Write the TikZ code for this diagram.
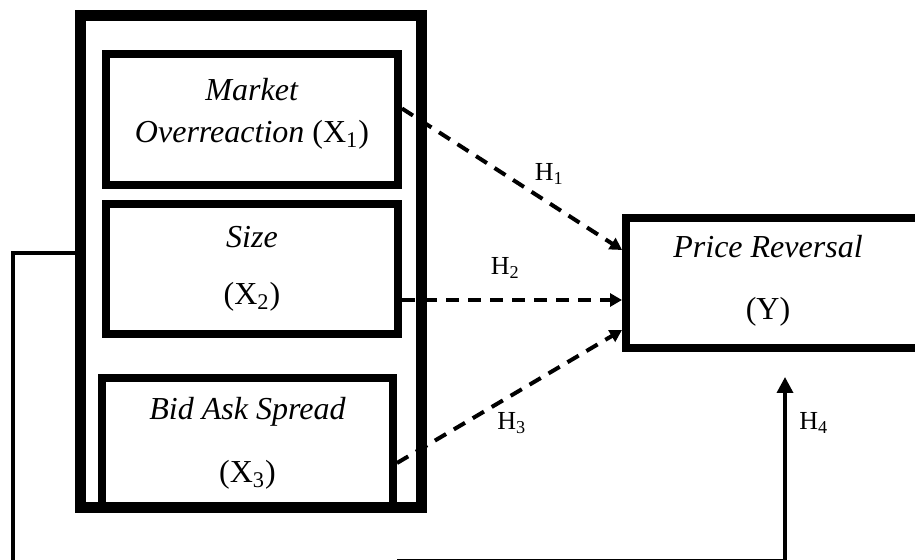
\documentclass[tikz,border=0pt]{standalone}
\usepackage{fontspec}
\setmainfont{Liberation Serif}
\usetikzlibrary{arrows.meta,calc}

\begin{document}
\begin{tikzpicture}[x=0.5pt,y=-0.5pt,
    var/.style={draw,line width=4pt,align=center,inner sep=0pt,
      font=\fontsize{16}{19}\selectfont},
    hyp/.style={-{Triangle[length=6pt,width=6.5pt]},line width=2pt,
      dash pattern=on 6.5pt off 4.5pt},
    lbl/.style={font=\fontsize{13}{15}\selectfont}]
  \useasboundingbox (0,0) rectangle (915,560);
  \clip (0,0) rectangle (915,560);
  % frame round the independent variables
  \node[draw,line width=5.5pt,minimum width=170.5pt,minimum height=246pt] (frame) at (250.5,262) {};
  \node[var,minimum width=146pt,minimum height=65.5pt,text depth=9.5pt] (mor) at (252,119.5)
    {\textit{Market}\\[2pt]\textit{Overreaction} (X\textsubscript{1})};
  \node[var,minimum width=146pt,minimum height=65pt] (size) at (252,269)
    {\textit{Size}\\[9.5pt](X\textsubscript{2})};
  \node[var,minimum width=145.5pt,minimum height=65pt] (bas) at (247.5,443)
    {\textit{Bid Ask Spread}\\[12.5pt](X\textsubscript{3})};
  % dependent variable, box runs past the right edge
  \node[var,minimum width=162pt,minimum height=65pt] (price) at (788,283) {};
  \node[align=center,font=\fontsize{16}{19}\selectfont] (pricetxt) at (768,281)
    {\textit{Price Reversal}\\[12pt](Y)};

  % partial effects
  \draw[hyp] ($(mor.east)+(0,-11)$) -- node[lbl,pos=.67,yshift=14.75pt] {H\textsubscript{1}} ($(price.west)+(0,-33)$);
  \draw[hyp] ($(size.east)+(0,31)$) -- node[lbl,pos=.47,yshift=16pt] {H\textsubscript{2}} ($(price.west)+(0,17)$);
  \draw[hyp] ($(bas.east)+(0,20)$) -- node[lbl,pos=.51,yshift=-14pt] {H\textsubscript{3}} ($(price.west)+(0,47)$);

  % joint effect
  \draw[line width=1.75pt] ($(frame.west)+(0,-9)$) -| (13,575);
  \coordinate (fbr) at (397,561);
  \coordinate (fbc) at (785,561);
  \draw[line width=1.75pt,-{Triangle[length=8pt,width=8pt]},shorten >=12.5pt]
    (fbr) -- (fbc) -- node[lbl,pos=.66,right=3pt] {H\textsubscript{4}} (fbc |- price.south);
\end{tikzpicture}
\end{document}
